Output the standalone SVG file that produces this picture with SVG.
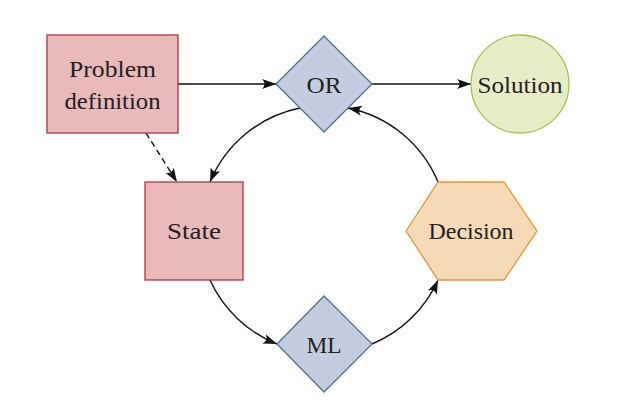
<svg xmlns="http://www.w3.org/2000/svg" width="618" height="414" viewBox="0 0 618 414">
<style>
text{font-family:"Liberation Serif","DejaVu Serif","Times New Roman",serif;font-size:24px;fill:#222;text-anchor:middle}
.red{fill:#e9b9bc;stroke:#b3343c;stroke-width:1.3}
.blue{fill:#c4cde0;stroke:#55708f;stroke-width:1.3}
.green{fill:#e7ecc6;stroke:#a6c34b;stroke-width:1.3}
.orange{fill:#f6d9b6;stroke:#e8952f;stroke-width:1.3}
.c{fill:none;stroke:#111;stroke-width:1.4}
</style>
<defs>
<marker id="ah" viewBox="0 0 14 11" refX="14" refY="5.5" markerWidth="14" markerHeight="11" markerUnits="userSpaceOnUse" orient="auto">
<path d="M0,0.5 Q5,5.5 0,10.5 L14,5.5 Z" fill="#111"/>
</marker>
</defs>
<rect width="618" height="414" fill="#fff"/>
<g id="connectors">
<path class="c" d="M178,84 L276,84" marker-end="url(#ah)"/>
<path class="c" d="M372,84 L471,84" marker-end="url(#ah)"/>
<path class="c" d="M146,133 L177,182" stroke-dasharray="6,4" marker-end="url(#ah)"/>
<path class="c" d="M300,108 A124,124 0 0 0 210,182" marker-end="url(#ah)"/>
<path class="c" d="M210,280 A124,124 0 0 0 277,344" marker-end="url(#ah)"/>
<path class="c" d="M372,344 A124,124 0 0 0 438,280" marker-end="url(#ah)"/>
<path class="c" d="M438,182 A124,124 0 0 0 348,108" marker-end="url(#ah)"/>
</g>
<g id="problem">
<rect class="red" x="47" y="35" width="131" height="98"/>
<text x="112.5" y="77" textLength="87" lengthAdjust="spacingAndGlyphs">Problem</text>
<text x="112.5" y="109" textLength="96" lengthAdjust="spacingAndGlyphs">definition</text>
</g>
<g id="or">
<polygon class="blue" points="324,36 372,84 324,132 276,84"/>
<text x="324" y="93" textLength="35" lengthAdjust="spacingAndGlyphs">OR</text>
</g>
<g id="solution">
<circle class="green" cx="520" cy="84" r="49"/>
<text x="520" y="93" textLength="85" lengthAdjust="spacingAndGlyphs">Solution</text>
</g>
<g id="state">
<rect class="red" x="145" y="182" width="98" height="98"/>
<text x="194" y="239" textLength="54" lengthAdjust="spacingAndGlyphs">State</text>
</g>
<g id="decision">
<polygon class="orange" points="406,231 438,182 504,182 537,231 504,280 438,280"/>
<text x="471" y="239" textLength="85" lengthAdjust="spacingAndGlyphs">Decision</text>
</g>
<g id="ml">
<polygon class="blue" points="324,296 372,344 324,392 277,344"/>
<text x="324" y="353" textLength="35" lengthAdjust="spacingAndGlyphs">ML</text>
</g>
</svg>
